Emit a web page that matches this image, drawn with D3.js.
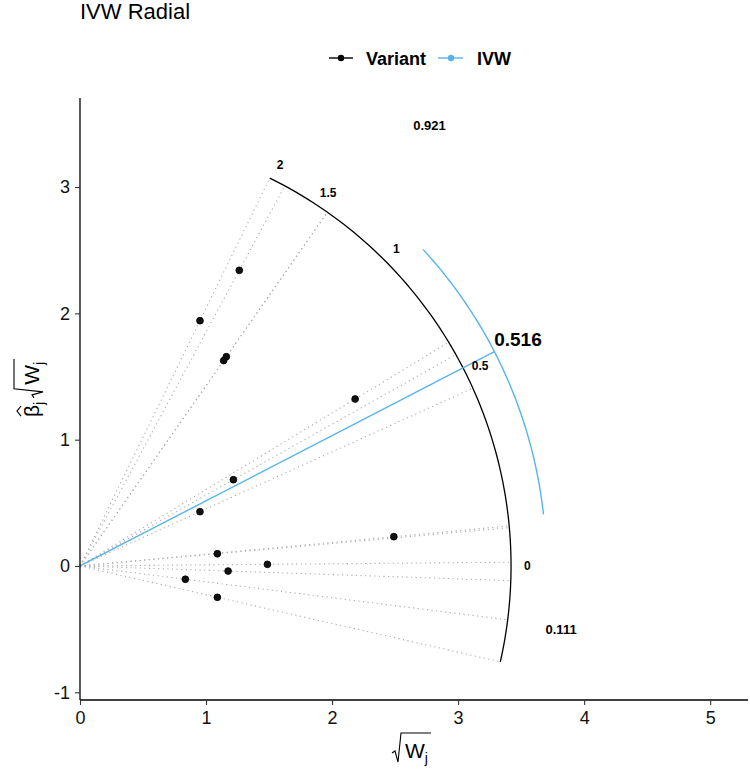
<!DOCTYPE html>
<html><head><meta charset="utf-8">
<script src="https://cdn.jsdelivr.net/npm/d3@7"></script>
<style>
body{margin:0;background:#fff;}
text{font-family:"Liberation Sans",Arial,sans-serif;}
</style></head>
<body><svg id="chart" width="750" height="773"></svg>
<script>
// ---- data ----
const sqrtW     = [1.264, 0.952, 1.161, 1.140, 2.183, 1.217, 0.952, 2.490, 1.090, 1.487, 1.175, 0.836, 1.090];
const betaSqrtW = [2.341, 1.942, 1.657, 1.626, 1.322, 0.683, 0.430, 0.232, 0.097, 0.013, -0.040, -0.105, -0.248];
const ivwEstimate = 0.516;
const ivwCI = [0.111, 0.921];
const scaleTicks = [0, 0.5, 1, 1.5, 2];
const xTicks = [0, 1, 2, 3, 4, 5];
const yTicks = [-1, 0, 1, 2, 3];
const circleRadius = 3.42;   // radius of variant scale arc
const ivwRadius = 3.70;      // radius of IVW arc
const ciLabelPos = [[2.773, 3.486], [3.817, -0.501]];

const svg = d3.select("#chart");
const x = d3.scaleLinear().domain([0, 5.3]).range([80, 748]);
const y = d3.scaleLinear().domain([-1.061, 3.705]).range([700, 98]);

// title
svg.append("text").attr("x", 80).attr("y", 19).attr("font-size", 22).attr("fill", "#000").text("IVW Radial");

// legend
const lg = svg.append("g");
lg.append("line").attr("x1", 329).attr("x2", 353).attr("y1", 58).attr("y2", 58).attr("stroke", "#000").attr("stroke-width", 1.4);
lg.append("circle").attr("cx", 341).attr("cy", 58).attr("r", 3.2).attr("fill", "#000");
lg.append("text").attr("x", 366).attr("y", 64.5).attr("font-size", 18).attr("font-weight", "bold").text("Variant");
lg.append("line").attr("x1", 438).attr("x2", 463).attr("y1", 58).attr("y2", 58).attr("stroke", "#56B4E9").attr("stroke-width", 1.4);
lg.append("circle").attr("cx", 451).attr("cy", 58).attr("r", 3.2).attr("fill", "#56B4E9");
lg.append("text").attr("x", 477).attr("y", 64.5).attr("font-size", 18).attr("font-weight", "bold").text("IVW");

const ratios = sqrtW.map((w, i) => betaSqrtW[i] / w);
const line = d3.line().x(d => x(d[0])).y(d => y(d[1]));
function arc(r, a0, a1) {
  const pts = [];
  const n = 80;
  for (let k = 0; k <= n; k++) { const a = a0 + (a1 - a0) * k / n; pts.push([r * Math.cos(a), r * Math.sin(a)]); }
  return pts;
}

// dotted lines
ratios.forEach(b => {
  const a = Math.atan(b);
  svg.append("path").attr("d", line([[0, 0], [circleRadius * Math.cos(a), circleRadius * Math.sin(a)]]))
    .attr("fill", "none").attr("stroke", "#ababab").attr("stroke-width", 1.1).attr("stroke-dasharray", "1.2,3.4");
});

// black arc
const aMin = Math.atan(d3.min(ratios)), aMax = Math.atan(d3.max(ratios));
svg.append("path").attr("d", line(arc(circleRadius, aMin, aMax))).attr("fill", "none").attr("stroke", "#000").attr("stroke-width", 1.3);

// blue IVW arc and line
svg.append("path").attr("d", line(arc(ivwRadius, Math.atan(ivwCI[0]), Math.atan(ivwCI[1])))).attr("fill", "none").attr("stroke", "#56B4E9").attr("stroke-width", 1.4);
const aI = Math.atan(ivwEstimate);
svg.append("path").attr("d", line([[0, 0], [ivwRadius * Math.cos(aI), ivwRadius * Math.sin(aI)]])).attr("fill", "none").attr("stroke", "#56B4E9").attr("stroke-width", 1.4);

// scale labels
scaleTicks.forEach(t => {
  const a = Math.atan(t), r = circleRadius + 0.13;
  svg.append("text").attr("x", x(r * Math.cos(a))).attr("y", y(r * Math.sin(a))).attr("dy", "0.35em")
    .attr("text-anchor", "middle").attr("font-size", 12).attr("font-weight", "bold").text(String(t));
});
// IVW estimate label
svg.append("text").attr("x", x(3.91 * Math.cos(aI))).attr("y", y(3.91 * Math.sin(aI))).attr("dy", "0.35em")
  .attr("text-anchor", "middle").attr("font-size", 19).attr("font-weight", "bold").text(ivwEstimate.toFixed(3));
// CI labels
[ivwCI[1], ivwCI[0]].forEach((v, i) => {
  svg.append("text").attr("x", x(ciLabelPos[i][0])).attr("y", y(ciLabelPos[i][1])).attr("dy", "0.35em")
    .attr("text-anchor", "middle").attr("font-size", 13).attr("font-weight", "bold").text(v.toFixed(3));
});

// points
svg.append("g").selectAll("circle").data(sqrtW).join("circle")
  .attr("cx", d => x(d)).attr("cy", (d, i) => y(betaSqrtW[i])).attr("r", 3.4)
  .attr("fill", "#111").attr("stroke", "#000").attr("stroke-width", 0.8);

// axes
const fmt = d => String(d).replace("\u2212", "-");
const xa = svg.append("g").attr("transform", "translate(0,700)")
  .call(d3.axisBottom(x).tickValues(xTicks).tickSize(5).tickPadding(6).tickFormat(fmt));
const ya = svg.append("g").attr("transform", "translate(80,0)")
  .call(d3.axisLeft(y).tickValues(yTicks).tickSize(5).tickPadding(5).tickFormat(fmt));
[xa, ya].forEach(a => {
  a.select(".domain").attr("stroke", "#000").attr("stroke-width", 1.3);
  a.selectAll(".tick line").attr("stroke", "#333").attr("stroke-width", 1.1);
  a.selectAll(".tick text").attr("font-size", 18).attr("fill", "#111").attr("font-family", "Liberation Sans, Arial, sans-serif");
});
ya.select(".domain").attr("d", "M0,98V700");
xa.select(".domain").attr("d", "M80,0H748");

// math labels
function sqrtW_j(g, x0) {
  // radical + W_j starting at x0, baseline 0
  const w = g.append("text").attr("x", x0 + 13).attr("y", 0).attr("font-size", 21).text("W");
  const wW = w.node().getComputedTextLength();
  const j = g.append("text").attr("x", x0 + 13 + wW).attr("y", 5).attr("font-size", 14).text("j");
  const wj = j.node().getComputedTextLength();
  const end = x0 + 13 + wW + wj + 3;
  g.append("path").attr("d", `M${x0},-5 L${x0 + 3},-7 L${x0 + 6},4 L${x0 + 9},-25 L${end},-25`)
    .attr("fill", "none").attr("stroke", "#000").attr("stroke-width", 1.1);
  return end;
}
// x label
const xl = svg.append("g");
sqrtW_j(xl, 0);
xl.attr("transform", `translate(${392},758)`);

// y label
const yl = svg.append("g");
const yIn = yl.append("g");
const b = yIn.append("text").attr("x", 0).attr("y", 0).attr("font-size", 21).text("β");
const wb = b.node().getComputedTextLength();
yIn.append("path").attr("d", `M1,-18 L${wb / 2},-22 L${wb - 1},-18`).attr("fill", "none").attr("stroke", "#000").attr("stroke-width", 1.1);
const jb = yIn.append("text").attr("x", wb).attr("y", 5).attr("font-size", 14).text("j");
const wjb = jb.node().getComputedTextLength();
const yEnd = sqrtW_j(yIn, wb + wjb + 4);
yIn.attr("transform", `translate(${-yEnd / 2},0)`);
yl.attr("transform", "translate(39,388) rotate(-90)");
</script></body></html>
